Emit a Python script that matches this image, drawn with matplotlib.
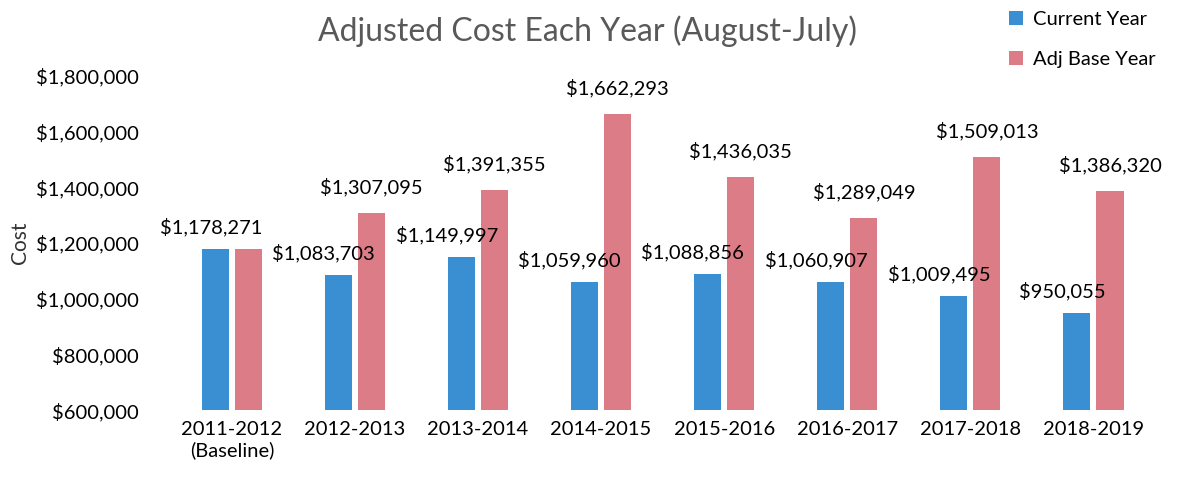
import numpy as np
import matplotlib.pyplot as plt
from matplotlib.ticker import FuncFormatter

years = ['2011-2012\n(Baseline)', '2012-2013', '2013-2014', '2014-2015',
         '2015-2016', '2016-2017', '2017-2018', '2018-2019']
current = [1178271, 1083703, 1149997, 1059960, 1088856, 1060907, 1009495, 950055]
adj_base = [1178271, 1307095, 1391355, 1662293, 1436035, 1289049, 1509013, 1386320]

plt.rcParams['font.family'] = ['Lato', 'DejaVu Sans']
blue = '#3A8ED2'
pink = '#DC7C86'

fig = plt.figure(figsize=(11.82, 4.83), dpi=100)
ax = fig.add_axes([0.1337, 0.151, 0.8486, 0.692])

x = np.arange(len(years))
w = 0.22
off = 0.135
b1 = ax.bar(x - off, current, w, color=blue, label='Current Year')
b2 = ax.bar(x + off, adj_base, w, color=pink, label='Adj Base Year')

# baseline year: both series equal, one label over the pair
for xi, c, a in zip(x, current, adj_base):
    if c == a:
        ax.text(xi - 0.17, c + 45000, '${:,}'.format(c), ha='center', va='bottom',
                fontsize=14.5, clip_on=False)
        continue
    ax.text(xi - off - 0.12, c + 45000, '${:,}'.format(c), ha='center', va='bottom',
            fontsize=14.5, clip_on=False)
    ax.text(xi + off, a + 60000, '${:,}'.format(a), ha='center', va='bottom',
            fontsize=14.5, clip_on=False)

ax.set_xlim(-0.6, 7.55)
ax.set_ylim(600000, 1800000)
ax.set_yticks(np.arange(600000, 1800001, 200000))
ax.yaxis.set_major_formatter(FuncFormatter(lambda v, p: '${:,.0f}'.format(v)))
ax.set_xticks(x)
ax.set_xticklabels(years)
ax.tick_params(length=0, labelsize=14.5, pad=8)
ax.tick_params(axis='y', pad=14)
for s in ax.spines.values():
    s.set_visible(False)
ax.set_ylabel('Cost', fontsize=15, color='#333333', labelpad=4)

fig.text(0.497, 0.935, 'Adjusted Cost Each Year (August-July)', ha='center', va='center',
         fontsize=23, color='#595959')

fig.legend(handles=[b1, b2], loc='upper left', bbox_to_anchor=(0.838, 1.015),
           frameon=False, fontsize=14.5, handlelength=0.7, handleheight=0.7,
           labelspacing=1.15, handletextpad=0.5)

fig.savefig('out.png', dpi=100)
